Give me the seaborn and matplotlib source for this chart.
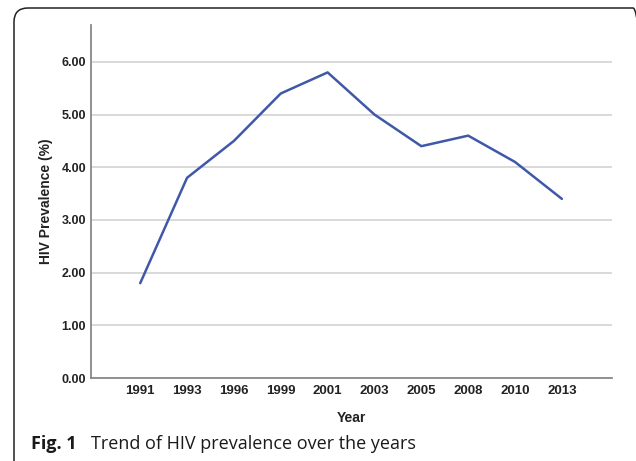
import matplotlib
matplotlib.use("Agg")
import matplotlib.pyplot as plt
from matplotlib.patches import FancyBboxPatch
import seaborn as sns
import pandas as pd

years = ["1991", "1993", "1996", "1999", "2001", "2003", "2005", "2008", "2010", "2013"]
prevalence = [1.8, 3.8, 4.5, 5.4, 5.8, 5.0, 4.4, 4.6, 4.1, 3.4]
y_ticks = [0, 1, 2, 3, 4, 5, 6]


def main():
    df = pd.DataFrame({"Year": years, "Prevalence": prevalence})

    sns.set_theme(style="white")
    plt.rcParams["font.family"] = ["Liberation Sans", "DejaVu Sans"]

    fig = plt.figure(figsize=(6.36, 4.61), dpi=100)
    ax = fig.add_axes([0.1431, 0.180, 0.8192, 0.7658])

    # rounded frame around the figure (inches; right side runs off the image)
    frame = FancyBboxPatch((0.14, -0.3), 6.33, 4.83, boxstyle="round,pad=0,rounding_size=0.14",
                           transform=fig.dpi_scale_trans, fill=False, edgecolor="#222222",
                           linewidth=1.1)
    fig.patches.append(frame)

    ax.yaxis.grid(True, color="#d9d9d9", linewidth=1.4)
    ax.set_axisbelow(True)
    sns.lineplot(data=df, x="Year", y="Prevalence", sort=False, color="#3f58a8",
                 linewidth=1.8, ax=ax)

    ax.set_xlim(-1.05, len(years) - 1 + 1.07)
    ax.set_ylim(0, 6.7)
    ax.set_yticks(y_ticks)
    ax.set_yticklabels([f"{v:.2f}" for v in y_ticks], fontsize=9, fontweight="bold", color="#222222")
    ax.set_xticks(range(len(years)))
    ax.set_xticklabels(years, fontsize=9.5, fontweight="bold", color="#222222")
    ax.tick_params(axis="x", length=0, pad=5)
    ax.tick_params(axis="y", length=0, pad=3.5)

    for s in ["top", "right"]:
        ax.spines[s].set_visible(False)
    for s in ["left", "bottom"]:
        ax.spines[s].set_color("#888888")
        ax.spines[s].set_linewidth(1.3)

    ax.set_xlabel("Year", fontsize=10, fontweight="bold", color="#222222", labelpad=10)
    ax.set_ylabel("HIV Prevalence (%)", fontsize=10, fontweight="bold", color="#222222", labelpad=6)

    fig.text(0.049, 0.027, "Fig. 1", fontsize=13, fontweight="bold", family="Open Sans", color="#1a1a1a")
    fig.text(0.143, 0.027, "Trend of HIV prevalence over the years", fontsize=13,
             family="Open Sans", color="#1a1a1a")

    fig.savefig("out.png", dpi=100)


if __name__ == "__main__":
    main()
